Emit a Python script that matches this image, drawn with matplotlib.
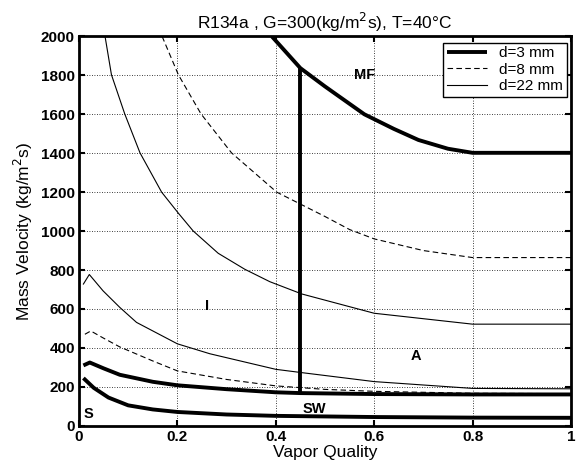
import matplotlib
matplotlib.use("Agg")
import matplotlib.pyplot as plt

plt.rcParams['font.family'] = ['Liberation Sans', 'DejaVu Sans']

# d = 3 mm
s3_x = [0.009, 0.03, 0.06, 0.10, 0.15, 0.20, 0.30, 0.40, 0.60, 0.80, 1.00]
s3_y = [245, 195, 145, 105, 84, 71, 58, 51, 45, 42, 41]
sw3_x = [0.009, 0.022, 0.05, 0.083, 0.15, 0.20, 0.30, 0.40, 0.45, 0.60, 0.80, 1.00]
sw3_y = [310, 325, 295, 262, 226, 208, 188, 172, 168, 163, 161, 161]
mf3_x = [0.392, 0.45, 0.50, 0.524, 0.58, 0.64, 0.69, 0.75, 0.80, 1.00]
mf3_y = [2000, 1837, 1743, 1700, 1600, 1525, 1468, 1423, 1402, 1402]
vert3_x = [0.45, 0.45]
vert3_y = [168, 1837]

# d = 8 mm
lo8_x = [0.012, 0.024, 0.05, 0.083, 0.15, 0.20, 0.30, 0.40, 0.45, 0.50, 0.60, 0.80, 1.00]
lo8_y = [470, 487, 450, 405, 333, 282, 238, 205, 196, 187, 177, 167, 165]
up8_x = [0.169, 0.202, 0.248, 0.310, 0.402, 0.453, 0.50, 0.55, 0.60, 0.70, 0.80, 1.00]
up8_y = [2000, 1803, 1602, 1402, 1200, 1135, 1075, 1008, 960, 900, 864, 864]

# d = 22 mm
lo22_x = [0.009, 0.021, 0.049, 0.083, 0.117, 0.20, 0.266, 0.40, 0.453, 0.60, 0.80, 1.00]
lo22_y = [728, 777, 693, 608, 531, 421, 370, 290, 273, 227, 192, 190]
up22_x = [0.053, 0.066, 0.093, 0.124, 0.168, 0.202, 0.232, 0.283, 0.337, 0.388, 0.453,
          0.60, 0.80, 1.00]
up22_y = [2000, 1803, 1602, 1402, 1200, 1092, 1001, 886, 804, 740, 677,
          578, 522, 522]

regions = ["MF", "I", "A", "SW", "S"]
region_x = [0.58, 0.26, 0.685, 0.478, 0.02]
region_y = [1800, 615, 360, 85, 60]

fig = plt.figure(figsize=(5.79, 4.72), dpi=100)
ax = fig.add_axes([0.1364, 0.0979, 0.8497, 0.825])

thick = dict(color='black', lw=2.8, solid_capstyle='butt')
h3, = ax.plot(s3_x, s3_y, **thick, label='d=3 mm')
ax.plot(sw3_x, sw3_y, **thick)
ax.plot(mf3_x, mf3_y, **thick)
ax.plot(vert3_x, vert3_y, **thick)

h8, = ax.plot(lo8_x, lo8_y, color='black', lw=0.8, ls=(0, (5, 3)), label='d=8 mm')
ax.plot(up8_x, up8_y, color='black', lw=0.8, ls=(0, (5, 3)))

h22, = ax.plot(lo22_x, lo22_y, color='black', lw=0.8, label='d=22 mm')
ax.plot(up22_x, up22_y, color='black', lw=0.8)

for t, x, y in zip(regions, region_x, region_y):
    ax.text(x, y, t, fontsize=10.5, fontweight='bold', ha='center', va='center')

ax.set_xlim(0, 1)
ax.set_ylim(0, 2000)
ax.set_xticks([0, 0.2, 0.4, 0.6, 0.8, 1])
ax.set_xticklabels(['0', '0.2', '0.4', '0.6', '0.8', '1'])
ax.set_yticks(range(0, 2001, 200))
ax.grid(True, color='black', ls=(0, (1, 2)), lw=0.6)
ax.tick_params(direction='in', length=4, width=1.5, top=True, right=True,
               labelsize=11, pad=3)
for lab in ax.get_xticklabels() + ax.get_yticklabels():
    lab.set_fontweight('bold')
for sp in ax.spines.values():
    sp.set_linewidth(2.0)

ax.set_xlabel('Vapor Quality', fontsize=12.5, labelpad=1)
ax.set_ylabel('Mass Velocity (kg/m$^2$s)', fontsize=12.5, labelpad=4)
ax.set_title('R134a , G=300(kg/m$^2$s), T=40°C', fontsize=12.5, pad=5)

leg = ax.legend(handles=[h3, h8, h22], loc='upper right',
                bbox_to_anchor=(0.991, 0.984), borderaxespad=0,
                fontsize=11, fancybox=False, framealpha=1,
                handlelength=2.6, borderpad=0.25, labelspacing=0.15,
                handletextpad=0.8)
leg.get_frame().set_edgecolor('black')
leg.get_frame().set_linewidth(1.0)

fig.savefig('out.png', dpi=100)
